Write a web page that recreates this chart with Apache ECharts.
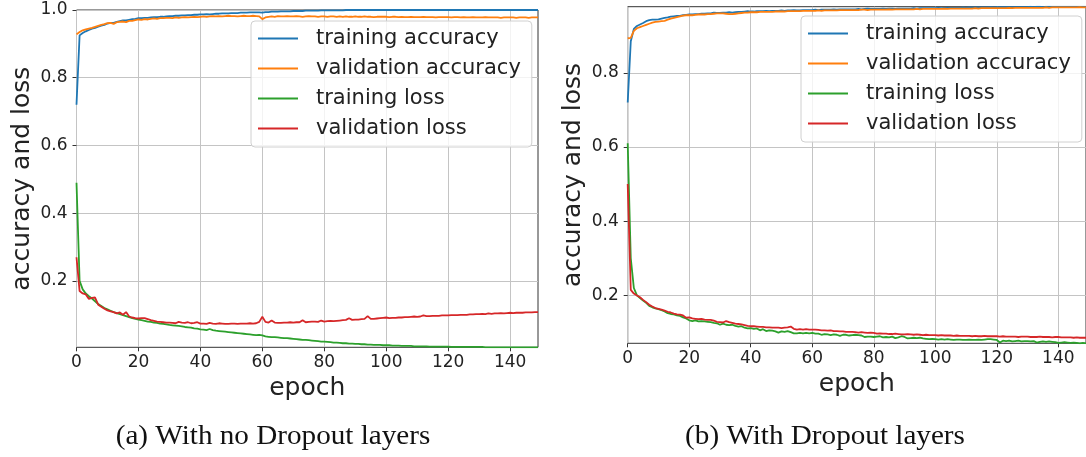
<!DOCTYPE html>
<html>
<head>
<meta charset="utf-8">
<script src="https://cdn.jsdelivr.net/npm/echarts@6.0.0/dist/echarts.min.js"></script>
<style>
  html, body { margin: 0; padding: 0; background: #fff; }
  #chart { width: 1086px; height: 457px; }
</style>
</head>
<body>
<div id="chart"></div>
<script>
// ---- (a) model without dropout ----
const trainAccA = [
  0.72,0.925,0.932,0.937,0.941,0.945,0.947,0.951,0.954,0.956,
  0.96,0.962,0.962,0.965,0.967,0.969,0.969,0.971,0.973,0.974,
  0.976,0.976,0.977,0.977,0.978,0.979,0.979,0.98,0.98,0.981,
  0.982,0.982,0.983,0.983,0.984,0.984,0.985,0.985,0.986,0.986,
  0.987,0.987,0.988,0.987,0.988,0.989,0.989,0.99,0.99,0.99,
  0.991,0.991,0.991,0.992,0.992,0.992,0.993,0.993,0.993,0.993,
  0.992,0.994,0.994,0.995,0.995,0.995,0.996,0.996,0.996,0.996,
  0.997,0.997,0.997,0.997,0.998,0.998,0.998,0.998,0.998,0.999,
  0.999,0.999,0.999,0.999,0.999,0.999,0.999,1,1,1,
  1,1,1,1,1,1,1,1,1,1,
  1,1,1,1,1,1,1,1,1,1,
  1,1,1,1,1,1,1,1,1,1,
  1,1,1,1,1,1,1,1,1,1,
  1,1,1,1,1,1,1,1,1,1,
  1,1,1,1,1,1,1,1,1,1
];
const valAccA = [
  0.928,0.935,0.94,0.943,0.945,0.947,0.95,0.953,0.956,0.958,
  0.961,0.962,0.959,0.964,0.965,0.966,0.964,0.968,0.968,0.97,
  0.972,0.971,0.973,0.972,0.974,0.975,0.974,0.976,0.976,0.977,
  0.977,0.976,0.978,0.977,0.978,0.979,0.978,0.979,0.98,0.979,
  0.98,0.981,0.98,0.981,0.982,0.981,0.982,0.981,0.982,0.983,
  0.982,0.982,0.981,0.982,0.983,0.982,0.982,0.983,0.982,0.981,
  0.973,0.978,0.98,0.981,0.98,0.982,0.981,0.981,0.982,0.981,
  0.981,0.982,0.981,0.98,0.981,0.982,0.981,0.981,0.98,0.981,
  0.981,0.98,0.981,0.981,0.98,0.981,0.98,0.981,0.98,0.98,
  0.981,0.98,0.98,0.981,0.98,0.98,0.979,0.98,0.98,0.98,
  0.98,0.979,0.98,0.98,0.979,0.98,0.979,0.979,0.98,0.979,
  0.979,0.979,0.98,0.979,0.979,0.979,0.978,0.979,0.979,0.979,
  0.979,0.978,0.979,0.979,0.978,0.979,0.978,0.978,0.979,0.978,
  0.978,0.978,0.979,0.978,0.978,0.978,0.978,0.977,0.978,0.978,
  0.978,0.978,0.977,0.978,0.978,0.978,0.977,0.978,0.978,0.978
];
const trainLossA = [
  0.49,0.2,0.175,0.163,0.155,0.148,0.14,0.132,0.126,0.12,
  0.116,0.112,0.108,0.105,0.102,0.099,0.096,0.093,0.09,0.088,
  0.086,0.084,0.082,0.08,0.079,0.077,0.076,0.074,0.073,0.072,
  0.07,0.069,0.068,0.067,0.066,0.064,0.063,0.062,0.06,0.059,
  0.057,0.056,0.055,0.058,0.055,0.053,0.052,0.051,0.05,0.049,
  0.048,0.047,0.046,0.045,0.044,0.043,0.042,0.041,0.04,0.041,
  0.039,0.036,0.035,0.034,0.034,0.033,0.032,0.031,0.031,0.03,
  0.029,0.028,0.027,0.026,0.026,0.025,0.024,0.023,0.022,0.021,
  0.021,0.02,0.019,0.018,0.018,0.017,0.016,0.016,0.015,0.015,
  0.014,0.014,0.013,0.013,0.012,0.012,0.011,0.011,0.011,0.01,
  0.01,0.01,0.009,0.009,0.009,0.008,0.008,0.008,0.008,0.007,
  0.007,0.007,0.007,0.007,0.006,0.006,0.006,0.006,0.006,0.006,
  0.006,0.005,0.005,0.005,0.005,0.005,0.005,0.005,0.005,0.005,
  0.005,0.005,0.004,0.004,0.004,0.004,0.004,0.004,0.004,0.004,
  0.004,0.004,0.004,0.004,0.004,0.004,0.004,0.004,0.004,0.004
];
const valLossA = [
  0.27,0.17,0.163,0.16,0.147,0.15,0.151,0.13,0.124,0.118,
  0.113,0.11,0.108,0.104,0.107,0.1,0.108,0.095,0.092,0.09,
  0.089,0.09,0.09,0.087,0.084,0.082,0.08,0.079,0.078,0.077,
  0.077,0.076,0.075,0.079,0.077,0.076,0.078,0.075,0.076,0.078,
  0.074,0.074,0.073,0.076,0.074,0.073,0.075,0.074,0.073,0.073,
  0.074,0.074,0.073,0.074,0.074,0.074,0.075,0.074,0.075,0.079,
  0.094,0.079,0.077,0.083,0.077,0.076,0.076,0.077,0.077,0.078,
  0.077,0.078,0.078,0.084,0.078,0.079,0.08,0.08,0.079,0.083,
  0.08,0.081,0.082,0.081,0.082,0.083,0.084,0.085,0.09,0.085,
  0.086,0.086,0.087,0.088,0.096,0.088,0.088,0.089,0.09,0.091,
  0.092,0.09,0.091,0.091,0.092,0.092,0.093,0.093,0.094,0.095,
  0.094,0.095,0.098,0.096,0.096,0.097,0.097,0.097,0.098,0.098,
  0.098,0.099,0.099,0.099,0.1,0.1,0.1,0.101,0.101,0.102,
  0.102,0.103,0.102,0.104,0.103,0.104,0.104,0.105,0.104,0.105,
  0.106,0.105,0.106,0.106,0.106,0.107,0.107,0.107,0.108,0.108
];

// ---- (b) model with dropout ----
const trainAccB = [
  0.72,0.885,0.918,0.926,0.93,0.934,0.939,0.942,0.943,0.943,
  0.944,0.946,0.948,0.949,0.951,0.952,0.953,0.953,0.955,0.956,
  0.957,0.957,0.958,0.958,0.959,0.959,0.96,0.96,0.962,0.961,
  0.961,0.962,0.962,0.963,0.962,0.963,0.964,0.964,0.965,0.966,
  0.965,0.965,0.966,0.966,0.966,0.967,0.966,0.967,0.967,0.967,
  0.968,0.967,0.968,0.968,0.969,0.968,0.968,0.969,0.969,0.969,
  0.969,0.97,0.969,0.97,0.97,0.97,0.97,0.971,0.97,0.971,
  0.971,0.971,0.971,0.971,0.971,0.972,0.971,0.972,0.973,0.972,
  0.972,0.972,0.972,0.973,0.972,0.973,0.973,0.972,0.973,0.973,
  0.973,0.973,0.973,0.974,0.973,0.974,0.974,0.974,0.974,0.974,
  0.974,0.975,0.974,0.975,0.975,0.975,0.975,0.975,0.975,0.976,
  0.975,0.976,0.976,0.976,0.976,0.976,0.976,0.976,0.977,0.976,
  0.977,0.977,0.977,0.977,0.977,0.977,0.977,0.977,0.977,0.977,
  0.977,0.978,0.977,0.978,0.978,0.977,0.978,0.978,0.978,0.978,
  0.978,0.978,0.978,0.978,0.978,0.978,0.978,0.978,0.978,0.978
];
const valAccB = [
  0.893,0.894,0.913,0.92,0.923,0.926,0.929,0.932,0.935,0.937,
  0.938,0.939,0.94,0.943,0.946,0.948,0.95,0.952,0.954,0.955,
  0.955,0.955,0.956,0.957,0.957,0.957,0.958,0.958,0.959,0.96,
  0.96,0.96,0.959,0.958,0.958,0.959,0.96,0.961,0.962,0.962,
  0.963,0.963,0.963,0.964,0.964,0.964,0.964,0.964,0.965,0.965,
  0.965,0.965,0.966,0.966,0.966,0.966,0.966,0.967,0.967,0.967,
  0.967,0.967,0.968,0.967,0.968,0.968,0.968,0.968,0.968,0.969,
  0.969,0.969,0.969,0.969,0.969,0.969,0.97,0.97,0.969,0.97,
  0.97,0.97,0.97,0.97,0.97,0.971,0.97,0.971,0.971,0.971,
  0.971,0.971,0.971,0.971,0.972,0.971,0.972,0.972,0.972,0.972,
  0.972,0.972,0.972,0.973,0.972,0.973,0.973,0.973,0.973,0.973,
  0.973,0.973,0.973,0.974,0.973,0.974,0.974,0.974,0.974,0.974,
  0.974,0.974,0.974,0.974,0.975,0.974,0.975,0.975,0.975,0.975,
  0.975,0.975,0.975,0.975,0.975,0.975,0.976,0.975,0.976,0.976,
  0.976,0.976,0.976,0.976,0.976,0.976,0.976,0.977,0.976,0.976
];
const trainLossB = [
  0.61,0.3,0.22,0.2,0.193,0.186,0.18,0.172,0.168,0.165,
  0.163,0.16,0.157,0.152,0.15,0.149,0.146,0.145,0.141,0.138,
  0.133,0.131,0.133,0.13,0.131,0.13,0.129,0.128,0.126,0.125,
  0.121,0.124,0.121,0.12,0.121,0.118,0.116,0.117,0.113,0.111,
  0.112,0.11,0.111,0.106,0.109,0.104,0.106,0.105,0.103,0.1,
  0.103,0.102,0.104,0.101,0.098,0.098,0.099,0.098,0.099,0.098,
  0.099,0.097,0.097,0.094,0.096,0.095,0.093,0.095,0.094,0.091,
  0.094,0.094,0.092,0.093,0.094,0.093,0.092,0.088,0.089,0.089,
  0.088,0.089,0.09,0.087,0.088,0.087,0.089,0.085,0.087,0.09,
  0.088,0.084,0.085,0.086,0.085,0.086,0.084,0.083,0.082,0.083,
  0.082,0.081,0.082,0.081,0.082,0.081,0.08,0.081,0.081,0.08,
  0.08,0.081,0.08,0.08,0.081,0.08,0.081,0.082,0.082,0.081,
  0.08,0.073,0.078,0.077,0.078,0.076,0.077,0.078,0.076,0.077,
  0.077,0.076,0.077,0.073,0.075,0.076,0.075,0.076,0.075,0.074,
  0.072,0.073,0.074,0.073,0.072,0.073,0.072,0.071,0.072,0.071
];
const valLossB = [
  0.5,0.215,0.205,0.2,0.195,0.188,0.182,0.175,0.17,0.166,
  0.164,0.162,0.159,0.156,0.154,0.151,0.149,0.148,0.146,0.14,
  0.141,0.138,0.137,0.136,0.137,0.135,0.134,0.134,0.132,0.129,
  0.128,0.127,0.131,0.128,0.126,0.124,0.123,0.122,0.12,0.118,
  0.117,0.117,0.116,0.115,0.115,0.114,0.114,0.113,0.113,0.113,
  0.112,0.113,0.114,0.116,0.11,0.108,0.109,0.108,0.109,0.108,
  0.108,0.108,0.107,0.106,0.106,0.105,0.106,0.104,0.104,0.103,
  0.103,0.102,0.102,0.102,0.101,0.1,0.101,0.1,0.099,0.1,
  0.099,0.097,0.098,0.097,0.097,0.096,0.096,0.097,0.096,0.095,
  0.095,0.096,0.095,0.094,0.095,0.094,0.093,0.094,0.093,0.093,
  0.093,0.092,0.093,0.092,0.092,0.092,0.091,0.092,0.091,0.091,
  0.091,0.091,0.09,0.091,0.09,0.09,0.091,0.09,0.09,0.09,
  0.09,0.089,0.09,0.089,0.089,0.089,0.089,0.088,0.089,0.089,
  0.089,0.088,0.088,0.088,0.089,0.088,0.088,0.088,0.087,0.088,
  0.088,0.087,0.087,0.087,0.087,0.086,0.087,0.086,0.086,0.086
];

const seriesNames = ['training accuracy', 'validation accuracy', 'training loss', 'validation loss'];
const seriesColors = ['#1f77b4', '#ff7f0e', '#2ca02c', '#d62728'];
const epochTicks = [0, 20, 40, 60, 80, 100, 120, 140];
const yTicksA = [0.2, 0.4, 0.6, 0.8, 1.0];
const yTicksB = [0.2, 0.4, 0.6, 0.8];
const captions = ['(a) With no Dropout layers', '(b) With Dropout layers'];

const FONT = 'DejaVu Sans';
const TXT = '#222222';

function toPairs(values) {
  return values.map((v, i) => [i, v]);
}

function xAxisFor(gridIndex) {
  return {
    type: 'value', gridIndex, min: 0, max: 149,
    name: 'epoch', nameLocation: 'middle', nameGap: 29,
    nameTextStyle: { fontFamily: FONT, fontSize: 25, color: TXT },
    axisLine: { show: false },
    axisTick: { show: true, inside: false, length: 4, customValues: epochTicks,
                lineStyle: { color: '#333', width: 1 } },
    axisLabel: { customValues: epochTicks, margin: 7, fontFamily: FONT, fontSize: 17, color: TXT },
    splitLine: { show: true, lineStyle: { color: '#c4c4c4', width: 1 } }
  };
}

function yAxisFor(gridIndex, min, max, ticks) {
  return {
    type: 'value', gridIndex, min, max,
    name: 'accuracy and loss', nameLocation: 'middle', nameRotate: 90, nameGap: 42,
    nameTextStyle: { fontFamily: FONT, fontSize: 25, color: TXT },
    axisLine: { show: false },
    axisTick: { show: true, inside: false, length: 4, customValues: ticks,
                lineStyle: { color: '#333', width: 1 } },
    axisLabel: { customValues: ticks, margin: 9, fontFamily: FONT, fontSize: 17, color: TXT,
                 formatter: v => v.toFixed(1) },
    splitLine: { show: true, lineStyle: { color: '#c4c4c4', width: 1 } }
  };
}

function seriesFor(idx, arrays) {
  return arrays.map((arr, k) => ({
    name: seriesNames[k], type: 'line', xAxisIndex: idx, yAxisIndex: idx,
    data: toPairs(arr), symbol: 'none', showSymbol: false, clip: true,
    lineStyle: { color: seriesColors[k], width: 1.8 },
    itemStyle: { color: seriesColors[k] },
    emphasis: { disabled: true }, animation: false
  }));
}

function legendAt(left, top) {
  return {
    left, top, orient: 'vertical', data: seriesNames,
    icon: 'rect', itemWidth: 40, itemHeight: 2, itemGap: 9,
    padding: [7, 11, 8, 7],
    backgroundColor: 'rgba(255,255,255,0.8)',
    borderColor: '#d0d0d0', borderWidth: 1, borderRadius: 4,
    selectedMode: false,
    textStyle: { fontFamily: FONT, fontSize: 21, color: TXT, lineHeight: 20,
                 padding: [0, 0, 0, 13] }
  };
}

const chart = echarts.init(document.getElementById('chart'), null, { renderer: 'canvas' });
chart.setOption({
  animation: false,
  backgroundColor: '#ffffff',
  grid: [
    { left: 76.5, top: 10, width: 461.5, height: 337.3, show: true,
      borderColor: '#333', borderWidth: 1, backgroundColor: 'transparent' },
    { left: 627.7, top: 6.7, width: 462, height: 336.6, show: true,
      borderColor: '#333', borderWidth: 1, backgroundColor: 'transparent' }
  ],
  xAxis: [xAxisFor(0), xAxisFor(1)],
  yAxis: [yAxisFor(0, 0.004, 1.0, yTicksA), yAxisFor(1, 0.071, 0.978, yTicksB)],
  legend: [legendAt(251, 21), legendAt(801, 16)],
  series: [
    ...seriesFor(0, [trainAccA, valAccA, trainLossA, valLossA]),
    ...seriesFor(1, [trainAccB, valAccB, trainLossB, valLossB])
  ],
  graphic: [
    { type: 'text', x: 273, y: 437, scaleX: 1.08, style: { text: captions[0], fontFamily: 'Liberation Serif',
      fontSize: 27, fill: '#111', textAlign: 'center', textVerticalAlign: 'middle' } },
    { type: 'text', x: 825, y: 437, scaleX: 1.08, style: { text: captions[1], fontFamily: 'Liberation Serif',
      fontSize: 27, fill: '#111', textAlign: 'center', textVerticalAlign: 'middle' } }
  ]
});
</script>
</body>
</html>
